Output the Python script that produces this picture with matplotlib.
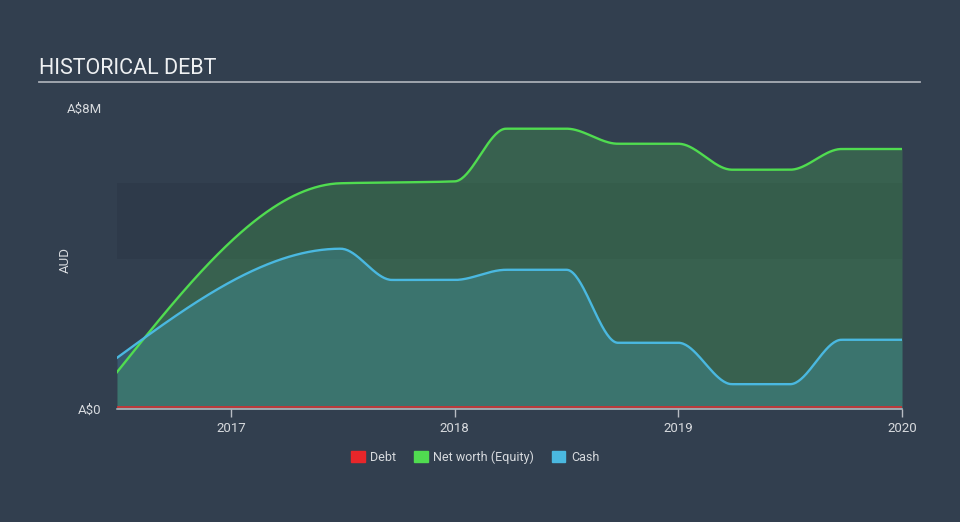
import numpy as np
import matplotlib
matplotlib.use("Agg")
import matplotlib.pyplot as plt
from matplotlib.patches import Patch

plt.rcParams["font.family"] = ["Roboto", "DejaVu Sans"]

# reporting dates (decimal years) and values in A$ millions
dates = [2016.49, 2017.49, 2017.72, 2018.0, 2018.23, 2018.5,
         2018.73, 2019.0, 2019.24, 2019.5, 2019.73, 2020.0]
equity = [0.98, 6.0, 6.02, 6.05, 7.45, 7.45, 7.05, 7.05, 6.36, 6.36, 6.91, 6.91]
cash = [1.36, 4.26, 3.43, 3.43, 3.70, 3.70, 1.76, 1.76, 0.66, 0.66, 1.84, 1.84]
debt = [0.04, 0.04, 0.04, 0.04, 0.04, 0.04, 0.04, 0.04, 0.04, 0.04, 0.04, 0.04]

year_ticks = [2017, 2018, 2019, 2020]
y_ticks = [0, 8]
y_tick_labels = ["A$0", "A$8M"]

BG = "#323f4f"
BAND = "#2e3a4a"
GREEN = "#50dc50"
BLUE = "#4ab8e0"
RED = "#e8262a"
TEXT = "#d7dade"


def monotone(x, y, n=600):
    """Monotone cubic (d3 curveMonotoneX style) through the points."""
    x = np.asarray(x, float)
    y = np.asarray(y, float)
    h = np.diff(x)
    s = np.diff(y) / h
    t = np.zeros_like(y)
    for i in range(1, len(x) - 1):
        p = (s[i - 1] * h[i] + s[i] * h[i - 1]) / (h[i - 1] + h[i])
        t[i] = (np.sign(s[i - 1]) + np.sign(s[i])) * min(abs(s[i - 1]), abs(s[i]), 0.5 * abs(p))
    t[0] = (3 * s[0] - t[1]) / 2
    t[-1] = (3 * s[-1] - t[-2]) / 2
    xs = np.linspace(x[0], x[-1], n)
    ys = np.empty_like(xs)
    for k, xv in enumerate(xs):
        i = min(np.searchsorted(x, xv, side="right") - 1, len(x) - 2)
        u = (xv - x[i]) / h[i]
        h00 = 2 * u**3 - 3 * u**2 + 1
        h10 = u**3 - 2 * u**2 + u
        h01 = -2 * u**3 + 3 * u**2
        h11 = u**3 - u**2
        ys[k] = h00 * y[i] + h10 * h[i] * t[i] + h01 * y[i + 1] + h11 * h[i] * t[i + 1]
    return xs, ys


fig = plt.figure(figsize=(9.6, 5.22), dpi=100, facecolor=BG)
ax = fig.add_axes([117 / 960, 113 / 522, 785 / 960, 301 / 522])
ax.set_facecolor(BG)

# faint horizontal band
ax.axhspan(4, 6, color=BAND, zorder=0, lw=0)

xe, ye = monotone(dates, equity)
xc, yc = monotone(dates, cash)
xd, yd = monotone(dates, debt)

ax.fill_between(xe, 0, ye, color=GREEN, alpha=0.22, lw=0, zorder=1)
ax.plot(xe, ye, color=GREEN, lw=1.7, zorder=3)
ax.fill_between(xc, 0, yc, color=BLUE, alpha=0.22, lw=0, zorder=2)
ax.plot(xc, yc, color=BLUE, lw=1.7, zorder=3)
ax.plot(xd, yd, color=RED, lw=1.3, alpha=0.8, zorder=4)

ax.set_xlim(dates[0], dates[-1])
ax.set_ylim(0, 8)
ax.set_xticks(year_ticks)
ax.set_xticklabels([str(y) for y in year_ticks])
ax.set_yticks(y_ticks)
ax.set_yticklabels(y_tick_labels)

for side in ["top", "right", "left"]:
    ax.spines[side].set_visible(False)
ax.spines["bottom"].set_color("#b8bcc4")
ax.spines["bottom"].set_linewidth(1.1)
ax.tick_params(axis="x", colors="#b8bcc4", length=6, width=1, labelcolor=TEXT,
               labelsize=9.5, pad=3)
ax.tick_params(axis="y", length=0, labelcolor=TEXT, labelsize=9.5, pad=11)
ax.set_ylabel("AUD", color=TEXT, fontsize=9.5)
ax.yaxis.set_label_coords(-0.057, 0.495)

fig.text(39 / 960, 1 - 69 / 522, "HISTORICAL DEBT", color="#eef0f2",
         fontsize=15.5, va="center", ha="left")
fig.add_artist(plt.Line2D([39 / 960, 920 / 960], [1 - 82 / 522, 1 - 82 / 522],
                          color="#a8adb5", lw=1.3))

handles = [Patch(color=RED, label="Debt"),
           Patch(color=GREEN, label="Net worth (Equity)"),
           Patch(color=BLUE, label="Cash")]
leg = fig.legend(handles=handles, loc="center", bbox_to_anchor=(475 / 960, 1 - 457 / 522),
                 ncol=3, frameon=False, fontsize=9, handlelength=1.1, handleheight=0.9,
                 columnspacing=1.4, handletextpad=0.45)
for t in leg.get_texts():
    t.set_color(TEXT)

fig.savefig("out.png", dpi=100, facecolor=BG)
